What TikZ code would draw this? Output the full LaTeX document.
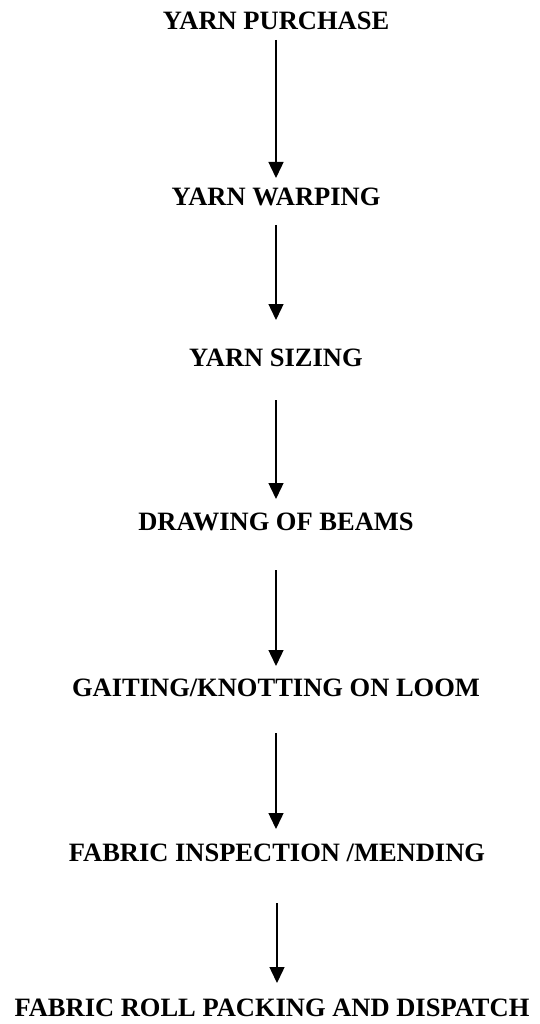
\documentclass[tikz,border=0pt]{standalone}
\usepackage{fontspec}
\setmainfont{Liberation Serif}
\usetikzlibrary{arrows.meta}
\tikzset{
  stage/.style={font=\bfseries\fontsize{26.5}{30}\selectfont, inner sep=0pt, anchor=center},
  flow/.style={line width=1.4pt, -{Triangle[length=16pt,width=15pt]}}
}
\begin{document}
\begin{tikzpicture}[x=1pt,y=-1pt]
\useasboundingbox (0,0) rectangle (539,1024);
\node[stage] (n1) at (276,21) {YARN PURCHASE};
\node[stage] (n2) at (276,197) {YARN WARPING};
\node[stage] (n3) at (276,358) {YARN SIZING};
\node[stage] (n4) at (276,522) {DRAWING OF BEAMS};
\node[stage] (n5) at (276,688) {GAITING/KNOTTING ON LOOM};
\node[stage] (n6) at (277,853) {FABRIC INSPECTION /MENDING};
\node[stage] (n7) at (272,1008) {FABRIC ROLL PACKING AND DISPATCH};
\coordinate (a1s) at (276,40);  \coordinate (a1e) at (276,178);
\coordinate (a2s) at (276,225); \coordinate (a2e) at (276,320);
\coordinate (a3s) at (276,400); \coordinate (a3e) at (276,499);
\coordinate (a4s) at (276,570); \coordinate (a4e) at (276,666);
\coordinate (a5s) at (276,733); \coordinate (a5e) at (276,829);
\coordinate (a6s) at (277,903); \coordinate (a6e) at (277,983);
\draw[flow] (a1s) -- (a1e);
\draw[flow] (a2s) -- (a2e);
\draw[flow] (a3s) -- (a3e);
\draw[flow] (a4s) -- (a4e);
\draw[flow] (a5s) -- (a5e);
\draw[flow] (a6s) -- (a6e);
\end{tikzpicture}
\end{document}
